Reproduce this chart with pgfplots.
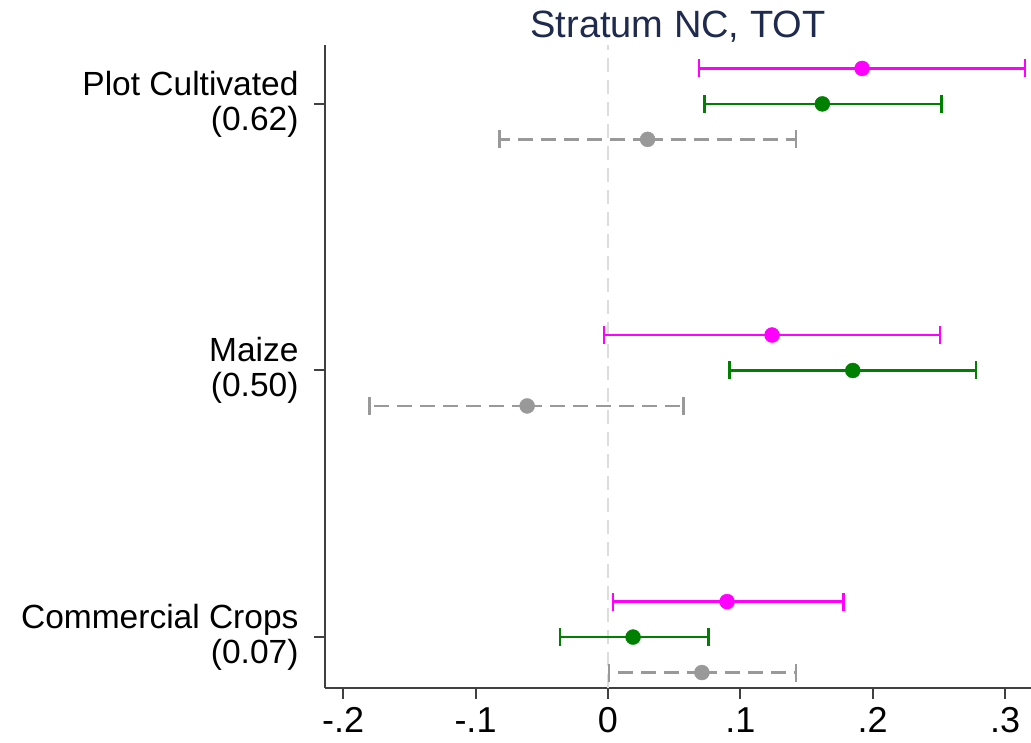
\documentclass[border=0pt]{standalone}
\usepackage{pgfplots}
\pgfplotsset{compat=1.18}
\usepackage{pgfplotstable}
\usepackage{fontspec}
\setmainfont{Liberation Sans}

\definecolor{titleblue}{HTML}{1E2A4E}
\definecolor{axisgray}{HTML}{404040}
\definecolor{refgray}{HTML}{DDDDDD}
\definecolor{tgray}{HTML}{999999}
\definecolor{tgreen}{HTML}{008000}
\definecolor{tmag}{HTML}{FF00FF}

% y position, estimate, lower and upper bound
\pgfplotstableread{
y x lo hi
3.133 0.192 0.069 0.315
2.133 0.124 -0.003 0.251
1.133 0.090 0.004 0.178
}\magdata
\pgfplotstableread{
y x lo hi
3 0.162 0.073 0.252
2 0.185 0.092 0.278
1 0.019 -0.036 0.076
}\greendata
\pgfplotstableread{
y x lo hi
2.867 0.030 -0.082 0.142
1.867 -0.061 -0.180 0.057
0.867 0.071 0.001 0.142
}\graydata

\begin{document}
\begin{tikzpicture}
\begin{axis}[
  name=ax, at={(0,0)}, anchor=south west,
  scale only axis, width=706pt, height=643pt,
  xmin=-0.2137, xmax=0.3196, ymin=0.809, ymax=3.221,
  axis x line*=bottom, axis y line*=left,
  axis line style={-, axisgray, line width=2pt},
  tick style={axisgray, line width=2pt},
  tick align=outside,
  major tick length=11pt,
  xtick={-0.2,-0.1,0,0.1,0.2,0.3},
  xticklabels={-.2,-.1,0,.1,.2,.3},
  ytick={1,2,3},
  yticklabels={{Commercial Crops\\(0.07)},{Maize\\(0.50)},{Plot Cultivated\\(0.62)}},
  yticklabel style={align=right, font=\fontsize{33.5}{35}\selectfont, xshift=-12pt},
  xticklabel style={font=\fontsize{36}{40}\selectfont, yshift=-5pt},
  title={Stratum NC, TOT},
  title style={font=\fontsize{38}{42}\selectfont, text=titleblue, at={(0.5,1)}, anchor=base, yshift=1pt},
  clip=false,
]
\addplot[refgray, line width=2pt, dash pattern=on 14pt off 8pt] coordinates {(0,0.809) (0,3.221)};

\addplot[only marks, mark=*, mark size=7.5pt, color=tgray,
  error bars/.cd, x dir=both, x explicit, error mark=|,
  error bar style={line width=2.7pt, dash pattern=on 15pt off 8pt},
  error mark options={solid, tgray, mark size=9pt, line width=2.5pt}]
  table[x=x, y=y, x error plus expr=\thisrow{hi}-\thisrow{x}, x error minus expr=\thisrow{x}-\thisrow{lo}] \graydata;

\addplot[only marks, mark=*, mark size=7.5pt, color=tgreen,
  error bars/.cd, x dir=both, x explicit, error mark=|,
  error bar style={line width=2.7pt},
  error mark options={tgreen, mark size=9pt, line width=2.5pt}]
  table[x=x, y=y, x error plus expr=\thisrow{hi}-\thisrow{x}, x error minus expr=\thisrow{x}-\thisrow{lo}] \greendata;

\addplot[only marks, mark=*, mark size=7.5pt, color=tmag,
  error bars/.cd, x dir=both, x explicit, error mark=|,
  error bar style={line width=2.7pt},
  error mark options={tmag, mark size=9pt, line width=2.5pt}]
  table[x=x, y=y, x error plus expr=\thisrow{hi}-\thisrow{x}, x error minus expr=\thisrow{x}-\thisrow{lo}] \magdata;
\end{axis}
\pgfresetboundingbox
\path[use as bounding box] (-325pt,-55pt) rectangle (706pt,688pt);
\end{tikzpicture}
\end{document}
